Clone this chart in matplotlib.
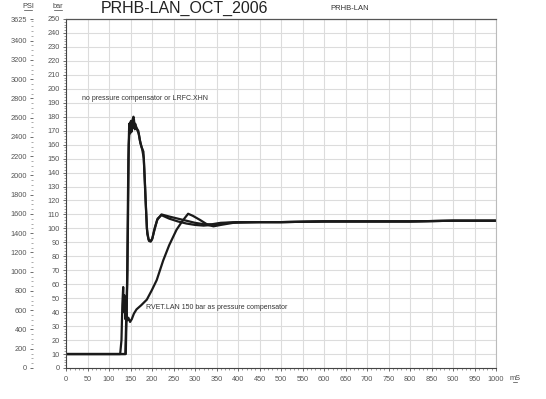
import matplotlib
matplotlib.use("Agg")
import matplotlib.pyplot as plt
from matplotlib.lines import Line2D
from matplotlib.ticker import MultipleLocator, FixedLocator
import numpy as np

plt.rcParams['font.family'] = ['Liberation Sans', 'DejaVu Sans']

# ---- data (ms, bar) ----
t_nocomp_a = [0, 138, 142, 145, 147, 149, 151, 153, 155, 157, 159, 161, 164, 168, 172, 176, 180,
              184, 188, 192, 196, 200, 205, 212, 222, 240, 260, 280, 300, 320, 340, 360, 400,
              500, 600, 700, 800, 900, 1000]
v_nocomp_a = [10, 10, 60, 150, 175, 168, 177, 170, 178, 180, 173, 175, 172, 170, 163, 158, 155,
              130, 100, 92, 91, 92, 98, 106, 110, 108.5, 107, 105.5, 104, 103, 103, 104, 104.5,
              104.5, 105, 105, 105, 105.5, 105.5]

t_nocomp_b = [0, 139, 143, 146, 148, 150, 152, 154, 156, 158, 160, 162, 165, 169, 173, 177, 181,
              185, 189, 193, 197, 201, 206, 213, 222, 240, 260, 280, 300, 320, 340, 360, 400,
              500, 600, 700, 800, 900, 1000]
v_nocomp_b = [10, 10, 70, 160, 172, 176, 169, 175, 172, 178, 171, 173, 171, 168, 161, 157, 150,
              120, 96, 91, 90.5, 93, 100, 107, 109.5, 107, 105, 103.5, 102.5, 102, 102.5, 103.5, 104.5,
              104.5, 105, 105, 105, 105.5, 105.5]

t_rvet = [0, 126, 129, 131, 133, 134, 136, 138, 140, 142, 145, 149, 153, 158, 164, 175, 188, 200,
          211, 226, 240, 257, 270, 284, 295, 312, 330, 343, 360, 389, 450, 500, 600, 700, 800,
          900, 1000]
v_rvet = [10, 10, 20, 45, 58, 40, 52, 35, 48, 34, 36, 33, 35, 39, 42, 45, 49, 56,
          63, 77, 88, 99, 105, 110.5, 109, 106, 102.5, 101.5, 102.5, 104, 104.5, 104.5, 105, 105, 105,
          105.5, 105.5]

x_ticks = list(range(0, 1001, 50))
bar_ticks = list(range(0, 251, 10))
psi_ticks = list(range(0, 3401, 200)) + [3625]

title = "PRHB-LAN_OCT_2006"
subtitle = "PRHB-LAN"
label_nocomp = "no pressure compensator or LRFC.XHN"
label_rvet = "RVET.LAN 150 bar as pressure compensator"

# ---- figure ----
fig = plt.figure(figsize=(5.46, 3.99), dpi=100)
L, R, B, T = 66/546, 496/546, 31/399, 380/399
ax = fig.add_axes([L, B, R - L, T - B])

line_kw = dict(color='#1a1a1a', lw=1.6, solid_joinstyle='round')
ax.plot(t_nocomp_a, v_nocomp_a, **line_kw)
ax.plot(t_nocomp_b, v_nocomp_b, **line_kw)
ax.plot(t_rvet, v_rvet, **line_kw)

ax.set_xlim(0, 1000)
ax.set_ylim(0, 250)
ax.xaxis.set_major_locator(FixedLocator(x_ticks))
ax.xaxis.set_minor_locator(MultipleLocator(10))
ax.yaxis.set_major_locator(FixedLocator(bar_ticks))
ax.yaxis.set_minor_locator(MultipleLocator(2))
ax.grid(True, which='major', color='#dcdcdc', lw=0.8)
ax.set_axisbelow(True)
ax.tick_params(axis='both', which='major', labelsize=5.3, colors='#555555', length=2.5, width=0.6, pad=2)
ax.tick_params(axis='both', which='minor', length=1.5, width=0.5, colors='#777777')
ax.tick_params(axis='x', pad=3)
for s in ['left', 'bottom']:
    ax.spines[s].set_color('#444444')
    ax.spines[s].set_linewidth(0.8)
ax.spines['top'].set_color('#555555')
ax.spines['top'].set_linewidth(0.9)
ax.spines['right'].set_color('#bbbbbb')
ax.spines['right'].set_linewidth(0.8)

# PSI axis
ax2 = ax.twinx()
ax2.set_ylim(0, 250 * 14.5)
ax2.yaxis.set_ticks_position('left')
ax2.yaxis.set_label_position('left')
ax2.spines['left'].set_position(('outward', 24))
ax2.spines['left'].set_visible(False)
for s in ['right', 'top', 'bottom']:
    ax2.spines[s].set_visible(False)
ax2.yaxis.set_major_locator(FixedLocator(psi_ticks))
ax2.yaxis.set_minor_locator(MultipleLocator(50))
ax2.tick_params(axis='y', which='major', labelsize=5.3, colors='#555555', length=2.5, width=0.6, pad=1.5,
                left=True, right=False, labelleft=True, labelright=False)
ax2.tick_params(axis='y', which='minor', length=1.2, width=0.5, colors='#888888', left=True, right=False)

# annotations
ax.text(37, 193, label_nocomp, fontsize=5, color='#333333', va='center', ha='left')
ax.text(186, 43, label_rvet, fontsize=5, color='#333333', va='center', ha='left')

fig.text(185/546, 1 - 8.5/399, title, fontsize=11.5, color='#222222', ha='center', va='center')
fig.text(350/546, 1 - 8/399, subtitle, fontsize=5.5, color='#333333', ha='center', va='center')

def ulabel(x, y, s, fs=5.3):
    fig.text(x/546, 1 - y/399, s, fontsize=fs, color='#444444', ha='center', va='center')
    w = len(s) * 2.4
    fig.add_artist(Line2D([(x - w/2)/546, (x + w/2)/546], [1 - (y + 4)/399] * 2,
                          color='#444444', lw=0.5, transform=fig.transFigure))

ulabel(28, 6, "PSI")
ulabel(58, 6, "bar")
ulabel(515, 378, "mS")

fig.savefig("out.png", dpi=100)
